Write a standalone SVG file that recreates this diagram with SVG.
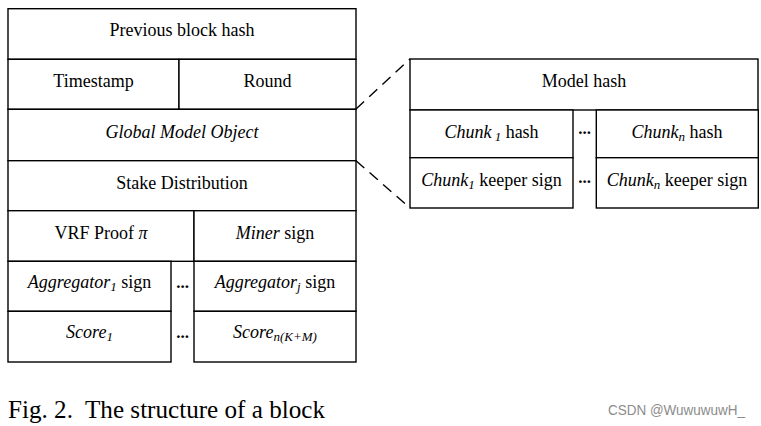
<svg xmlns="http://www.w3.org/2000/svg" width="761" height="426" viewBox="0 0 761 426">
<style>
.c{fill:#fff;stroke:#000;stroke-width:1.4}
.t{font-family:Liberation Serif,serif;font-size:18px;fill:#000;text-anchor:middle}
.i{font-style:italic}
.s{font-size:13px}
.d{font-family:Liberation Serif,serif;font-size:17px;font-weight:bold;fill:#000;text-anchor:middle}
.dash{stroke:#000;stroke-width:1.4;stroke-dasharray:11,7;fill:none}
</style>
<rect width="761" height="426" fill="#fff"/>
<g id="prev"><rect class="c" x="8" y="8.7" width="348" height="50.6"/><text class="t" x="182" y="36">Previous block hash</text></g>
<g id="timestamp"><rect class="c" x="8" y="59.3" width="171" height="50"/><text class="t" x="93.5" y="87">Timestamp</text></g>
<g id="round"><rect class="c" x="179" y="59.3" width="177" height="50"/><text class="t" x="267.5" y="87">Round</text></g>
<g id="gmo"><rect class="c" x="8" y="109.3" width="348" height="51.4"/><text class="t i" x="182" y="138">Global Model Object</text></g>
<g id="stake"><rect class="c" x="8" y="160.7" width="348" height="50"/><text class="t" x="182" y="189">Stake Distribution</text></g>
<g id="vrf"><rect class="c" x="8" y="210.7" width="186" height="50.6"/><text class="t" x="101" y="239">VRF Proof <tspan class="i">π</tspan></text></g>
<g id="miner"><rect class="c" x="194" y="210.7" width="162" height="50.6"/><text class="t" x="275" y="239"><tspan class="i">Miner</tspan> sign</text></g>
<g id="agg1"><rect class="c" x="8" y="261.3" width="163" height="50"/><text class="t" x="89.5" y="288"><tspan class="i">Aggregator</tspan><tspan class="i s" dy="3">1</tspan><tspan dy="-3"> sign</tspan></text></g>
<g id="aggj"><rect class="c" x="194" y="261.3" width="162" height="50"/><text class="t" x="275" y="288"><tspan class="i">Aggregator</tspan><tspan class="i s" dy="3">j</tspan><tspan dy="-3"> sign</tspan></text></g>
<g id="score1"><rect class="c" x="8" y="311.3" width="163" height="50.7"/><text class="t" x="89.5" y="338"><tspan class="i">Score</tspan><tspan class="i s" dy="3">1</tspan></text></g>
<g id="scoren"><rect class="c" x="194" y="311.3" width="162" height="50.7"/><text class="t" x="275" y="338"><tspan class="i">Score</tspan><tspan class="i s" dy="3">n(K+M)</tspan></text></g>
<g id="dots-left"><text class="d" x="182.5" y="288">...</text><text class="d" x="182.5" y="338">...</text></g>
<g id="modelhash"><rect class="c" x="410" y="59" width="348" height="51"/><text class="t" x="584" y="87">Model hash</text></g>
<g id="chunk1hash"><rect class="c" x="410" y="110" width="163" height="47.7"/><text class="t" x="491.5" y="137.5"><tspan class="i">Chunk</tspan><tspan class="i s" dy="3"> 1</tspan><tspan dy="-3"> hash</tspan></text></g>
<g id="chunknhash"><rect class="c" x="596.3" y="110" width="162" height="47.7"/><text class="t" x="677" y="137.5"><tspan class="i">Chunk</tspan><tspan class="i s" dy="3">n</tspan><tspan dy="-3"> hash</tspan></text></g>
<g id="chunk1keeper"><rect class="c" x="410" y="157.7" width="163" height="50.3"/><text class="t" x="491.5" y="186"><tspan class="i">Chunk</tspan><tspan class="i s" dy="3">1</tspan><tspan dy="-3"> keeper sign</tspan></text></g>
<g id="chunknkeeper"><rect class="c" x="596.3" y="157.7" width="162" height="50.3"/><text class="t" x="677" y="186"><tspan class="i">Chunk</tspan><tspan class="i s" dy="3">n</tspan><tspan dy="-3"> keeper sign</tspan></text></g>
<g id="dots-right"><text class="d" x="584.5" y="134">...</text><text class="d" x="584.5" y="183">...</text></g>
<g id="connectors"><path class="dash" d="M356,109 L410,59"/><path class="dash" d="M356,160.7 L410,208"/></g>
<text x="8" y="418" font-family="Liberation Serif, serif" font-size="26" fill="#000" xml:space="preserve" textLength="317" lengthAdjust="spacingAndGlyphs">Fig. 2.  The structure of a block</text>
<text x="608" y="415" font-family="Liberation Sans, Arial, sans-serif" font-size="14" fill="#8c8c8c" textLength="137" lengthAdjust="spacingAndGlyphs">CSDN @WuwuwuwH_</text>
</svg>
